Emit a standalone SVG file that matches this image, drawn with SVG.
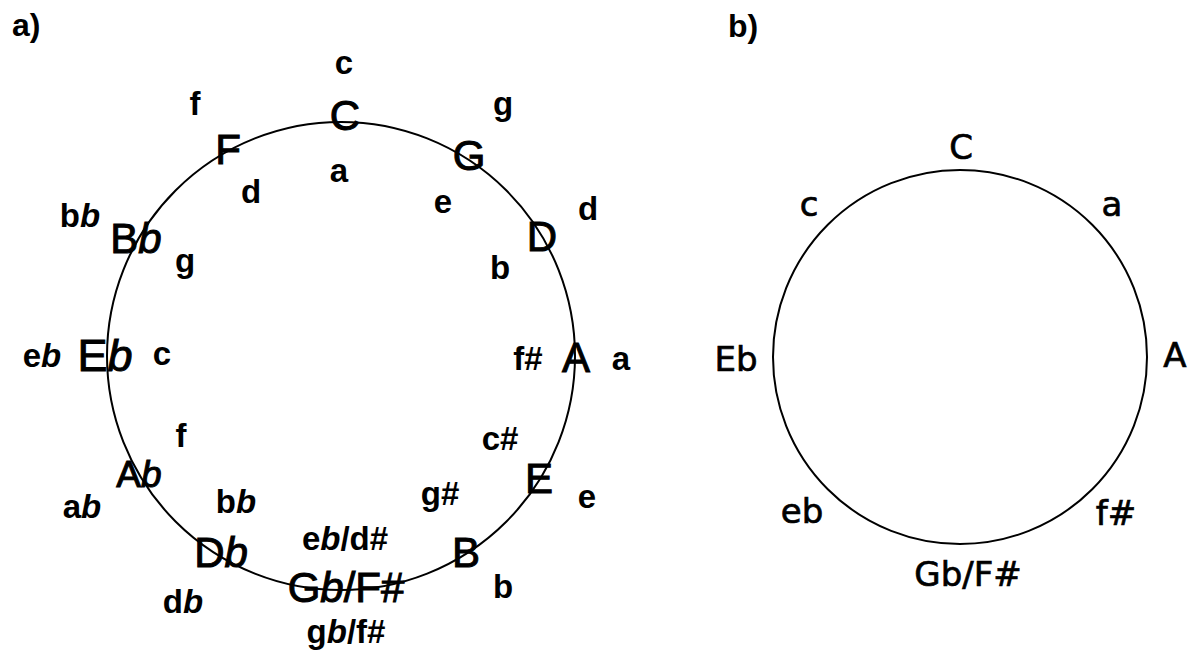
<svg xmlns="http://www.w3.org/2000/svg" width="1195" height="655" viewBox="0 0 1195 655">
  <style>
    .ring { fill: none; stroke: #000; stroke-width: 2; }
    .tag { font-family: "Liberation Sans", Arial, sans-serif; font-weight: bold; font-size: 32px; fill: #000; }
    .key { font-family: "Liberation Sans", Arial, sans-serif; font-size: 42px; fill: #000; stroke: #000; stroke-width: 1; text-anchor: middle; }
    .min { font-family: "Liberation Sans", Arial, sans-serif; font-weight: bold; font-size: 33px; fill: #000; text-anchor: middle; }
    .fl { font-style: italic; }
    .simple { font-family: "DejaVu Sans", Verdana, sans-serif; font-size: 34px; fill: #000; stroke: #000; stroke-width: 0.7; text-anchor: middle; }
  </style>

  <!-- panel labels -->
  <text class="tag" x="12" y="36">a)</text>
  <text class="tag" x="728" y="37">b)</text>

  <!-- panel a: circle of fifths with relative minors -->
  <g id="circle-a">
    <circle class="ring" cx="341" cy="356" r="234"/>
  </g>

  <g id="majors-a">
    <text id="maj-C" class="key" x="345" y="130">C</text>
    <text id="maj-G" class="key" x="469" y="170">G</text>
    <text id="maj-D" class="key" x="542" y="251">D</text>
    <text id="maj-A" class="key" x="576" y="372">A</text>
    <text id="maj-E" class="key" x="539" y="493">E</text>
    <text id="maj-B" class="key" x="466" y="567">B</text>
    <text id="maj-Gb" class="key" x="346" y="602">G<tspan class="fl">b</tspan>/F#</text>
    <text id="maj-Db" class="key" x="221" y="567">D<tspan class="fl">b</tspan></text>
    <text id="maj-Ab" class="key" x="139" y="487" style="font-size:37px">A<tspan class="fl">b</tspan></text>
    <text id="maj-Eb" class="key" x="105" y="371" style="font-size:45px">E<tspan class="fl">b</tspan></text>
    <text id="maj-Bb" class="key" x="136" y="253">B<tspan class="fl">b</tspan></text>
    <text id="maj-F" class="key" x="228" y="164">F</text>
  </g>

  <!-- minor keys outside the ring -->
  <g id="minors-outer">
    <text class="min" x="344" y="74">c</text>
    <text class="min" x="503" y="115">g</text>
    <text class="min" x="588" y="220">d</text>
    <text class="min" x="621" y="370">a</text>
    <text class="min" x="587" y="508">e</text>
    <text class="min" x="503" y="598">b</text>
    <text class="min" x="346" y="643">g<tspan class="fl">b</tspan>/f#</text>
    <text class="min" x="183" y="613">d<tspan class="fl">b</tspan></text>
    <text class="min" x="82" y="518">a<tspan class="fl">b</tspan></text>
    <text class="min" x="42" y="367">e<tspan class="fl">b</tspan></text>
    <text class="min" x="80" y="227">b<tspan class="fl">b</tspan></text>
    <text class="min" x="195" y="115">f</text>
  </g>

  <!-- minor keys inside the ring -->
  <g id="minors-inner">
    <text class="min" x="339" y="182">a</text>
    <text class="min" x="443" y="213">e</text>
    <text class="min" x="500" y="279">b</text>
    <text class="min" x="528" y="370">f#</text>
    <text class="min" x="500" y="450">c#</text>
    <text class="min" x="440" y="505">g#</text>
    <text class="min" x="345" y="550">e<tspan class="fl">b</tspan>/d#</text>
    <text class="min" x="236" y="513">b<tspan class="fl">b</tspan></text>
    <text class="min" x="181" y="447">f</text>
    <text class="min" x="162" y="365">c</text>
    <text class="min" x="185" y="272">g</text>
    <text class="min" x="251" y="203">d</text>
  </g>

  <!-- panel b: minor-third cycle -->
  <g id="circle-b">
    <circle class="ring" cx="960" cy="357" r="187"/>
  </g>
  <g id="labels-b">
    <text id="b-C" class="simple" x="961" y="159">C</text>
    <text id="b-c" class="simple" x="809" y="216">c</text>
    <text id="b-a" class="simple" x="1112" y="216">a</text>
    <text id="b-Eb" class="simple" x="736" y="371">Eb</text>
    <text id="b-A" class="simple" x="1175" y="367">A</text>
    <text id="b-eb" class="simple" x="802" y="523">eb</text>
    <text id="b-fs" class="simple" x="1116" y="525">f#</text>
    <text id="b-Gb" class="simple" x="968" y="586">Gb/F#</text>
  </g>
</svg>
